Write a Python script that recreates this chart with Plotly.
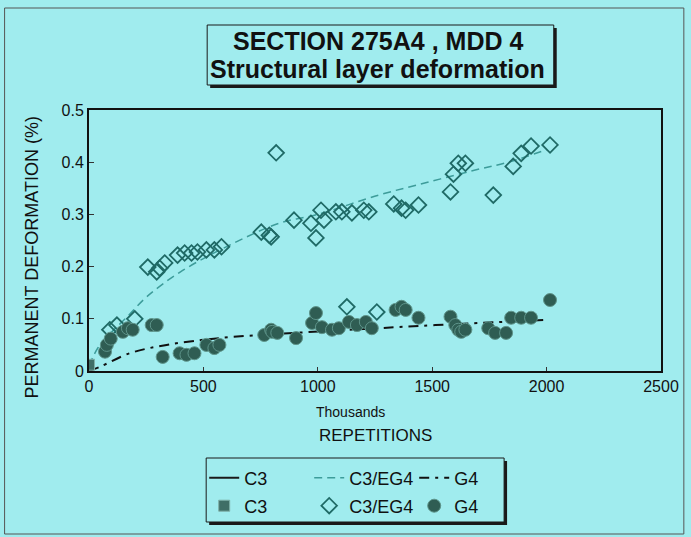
import plotly.graph_objects as go

# ---- data (x in thousands of repetitions, y in %) ----
c3_x = [0]
c3_y = [0.012]

eg4_x = [91, 122, 200, 257, 296, 309, 331, 387, 418, 448, 474, 513, 548, 579,
         753, 788, 796, 818, 896, 970, 992, 1014, 1027, 1079, 1105, 1127, 1149,
         1201, 1223, 1258, 1332, 1366, 1384, 1440, 1580, 1593, 1614, 1645,
         1767, 1854, 1889, 1932, 2015]
eg4_y = [0.079, 0.088, 0.100, 0.199, 0.190, 0.197, 0.207, 0.222, 0.226, 0.226,
         0.228, 0.232, 0.232, 0.238, 0.266, 0.260, 0.257, 0.418, 0.289, 0.283,
         0.255, 0.308, 0.289, 0.305, 0.305, 0.123, 0.303, 0.308, 0.305, 0.113,
         0.320, 0.312, 0.308, 0.318, 0.343, 0.377, 0.398, 0.398, 0.337, 0.392,
         0.417, 0.431, 0.433]

g4_x = [70, 78, 95, 148, 170, 191, 274, 296, 322, 396, 426, 461, 513, 548, 570,
        766, 796, 801, 823, 905, 975, 992, 1018, 1062, 1092, 1136, 1171, 1210,
        1236, 1340, 1366, 1384, 1440, 1580, 1601, 1614, 1627, 1645, 1745, 1775,
        1823, 1845, 1889, 1932, 2015]
g4_y = [0.037, 0.050, 0.062, 0.075, 0.082, 0.079, 0.088, 0.088, 0.027, 0.034,
        0.031, 0.034, 0.050, 0.044, 0.050, 0.069, 0.079, 0.075, 0.073, 0.063,
        0.092, 0.111, 0.084, 0.079, 0.082, 0.094, 0.088, 0.094, 0.082, 0.117,
        0.123, 0.117, 0.102, 0.104, 0.088, 0.079, 0.075, 0.079, 0.082, 0.073,
        0.073, 0.102, 0.102, 0.102, 0.136]

# trend lines
eg4_trend_x = [0, 40, 100, 165, 252, 400, 614, 831, 1000, 1266, 1484, 1688, 1832, 2000]
eg4_trend_y = [0.010, 0.045, 0.075, 0.103, 0.142, 0.190, 0.241, 0.283, 0.300, 0.337, 0.362, 0.385, 0.400, 0.424]

g4_trend_x = [0, 48, 178, 339, 570, 900, 1266, 1514, 2006]
g4_trend_y = [0.0, 0.008, 0.034, 0.050, 0.063, 0.073, 0.082, 0.088, 0.098]

x_ticks = [0, 500, 1000, 1500, 2000, 2500]
y_ticks = [0, 0.1, 0.2, 0.3, 0.4, 0.5]
y_ticktext = ["0", "0.1", "0.2", "0.3", "0.4", "0.5"]

BG = "#a0ecee"
FONT = "Liberation Sans, Arial, sans-serif"
INK = "#111111"

fig = go.Figure()

# legend row 1: lines
fig.add_trace(go.Scatter(x=[None], y=[None], mode="lines", name="C3",
                         line=dict(color="#1a1a1a", width=2), legend="legend"))
fig.add_trace(go.Scatter(x=eg4_trend_x, y=eg4_trend_y, mode="lines", name="C3/EG4",
                         line=dict(color="#3d9c9a", width=1.5, dash="8px,5px"),
                         line_shape="spline", legend="legend"))
fig.add_trace(go.Scatter(x=g4_trend_x, y=g4_trend_y, mode="lines", name="G4",
                         line=dict(color="#111111", width=2, dash="10px,6px,3px,6px"),
                         line_shape="spline", legend="legend"))

# legend row 2: markers
fig.add_trace(go.Scatter(x=c3_x, y=c3_y, mode="markers", name="C3",
                         marker=dict(symbol="square", size=11, color="#3f6e66",
                                     line=dict(color="#7fb0a8", width=1)),
                         legend="legend2"))
fig.add_trace(go.Scatter(x=eg4_x, y=eg4_y, mode="markers", name="C3/EG4",
                         marker=dict(symbol="diamond-open", size=12, color="#1f6a66",
                                     line=dict(width=1.8)),
                         legend="legend2"))
fig.add_trace(go.Scatter(x=g4_x, y=g4_y, mode="markers", name="G4",
                         marker=dict(symbol="circle", size=13, color="#2f5d53",
                                     line=dict(color="#5e948a", width=1)),
                         legend="legend2"))

# pixel -> paper helpers (plot area 89..665 x, 371..110 y)
L, R, T, B = 89, 665, 110, 371
def px(x):
    return (x - L) / (R - L)
def py(y):
    return (B - y) / (B - T)

shapes = []
# outer frame
shapes.append(dict(type="rect", xref="paper", yref="paper",
                   x0=px(4), x1=px(688), y0=py(534), y1=py(8),
                   line=dict(color="#555555", width=1)))
# title box shadow + box
shapes.append(dict(type="rect", xref="paper", yref="paper",
                   x0=px(211), x1=px(560), y0=py(88), y1=py(28),
                   line=dict(width=0), fillcolor="#1a1a1a"))
shapes.append(dict(type="rect", xref="paper", yref="paper",
                   x0=px(208), x1=px(557), y0=py(85), y1=py(25),
                   line=dict(color="#1a1a1a", width=1), fillcolor=BG))
# legend box shadow + box
shapes.append(dict(type="rect", xref="paper", yref="paper",
                   x0=px(210), x1=px(510), y0=py(525), y1=py(461),
                   line=dict(width=0), fillcolor="#1a1a1a"))
shapes.append(dict(type="rect", xref="paper", yref="paper",
                   x0=px(207), x1=px(507), y0=py(522), y1=py(458),
                   line=dict(color="#1a1a1a", width=1), fillcolor=BG))

annotations = [
    dict(text="<b>SECTION 275A4 , MDD 4</b>",
         xref="paper", yref="paper", x=px(380), y=py(41),
         xanchor="center", yanchor="middle", showarrow=False,
         font=dict(family=FONT, size=25, color=INK)),
    dict(text="<b>Structural layer deformation</b>",
         xref="paper", yref="paper", x=px(380), y=py(69),
         xanchor="center", yanchor="middle", showarrow=False,
         font=dict(family=FONT, size=25, color=INK)),
    dict(text="Thousands", xref="paper", yref="paper", x=px(352), y=py(412),
         xanchor="center", yanchor="middle", showarrow=False,
         font=dict(family=FONT, size=14, color=INK)),
    dict(text="REPETITIONS", xref="paper", yref="paper", x=px(377), y=py(436),
         xanchor="center", yanchor="middle", showarrow=False,
         font=dict(family=FONT, size=17, color=INK)),
    dict(text="PERMANENT DEFORMATION (%)", xref="paper", yref="paper",
         x=px(32), y=py(257), xanchor="center", yanchor="middle",
         textangle=-90, showarrow=False,
         font=dict(family=FONT, size=18, color=INK)),
]

legend_common = dict(orientation="h", xanchor="left", yanchor="middle",
                     bgcolor="rgba(0,0,0,0)", borderwidth=0,
                     font=dict(family=FONT, size=18, color=INK),
                     itemwidth=30, entrywidth=60, entrywidthmode="pixels",
                     tracegroupgap=0)

fig.update_layout(
    width=691, height=537,
    margin=dict(l=L, r=691 - R, t=T, b=537 - B),
    paper_bgcolor=BG, plot_bgcolor=BG,
    font=dict(family=FONT, size=15, color=INK),
    showlegend=True,
    legend=dict(x=px(205), y=py(478), **legend_common),
    legend2=dict(x=px(205), y=py(506), **legend_common),
    shapes=shapes,
    annotations=annotations,
    xaxis=dict(range=[0, 2500], tickvals=x_ticks, ticktext=[str(v) for v in x_ticks],
               showgrid=False, zeroline=False, showline=True, linecolor=INK,
               linewidth=2, mirror=True, ticks="inside", ticklen=4, tickcolor="#333333",
               tickfont=dict(family=FONT, size=16, color=INK)),
    yaxis=dict(range=[0, 0.5], tickvals=y_ticks, ticktext=y_ticktext,
               showgrid=False, zeroline=False, showline=True, linecolor=INK,
               linewidth=2, mirror=True, ticks="inside", ticklen=5, tickcolor="#333333",
               tickfont=dict(family=FONT, size=16, color=INK)),
)

fig.write_html("out.html",
               config={"displayModeBar": False},
               post_script="document.body.style.margin='0';"
                           "document.body.style.background='" + BG + "';")
